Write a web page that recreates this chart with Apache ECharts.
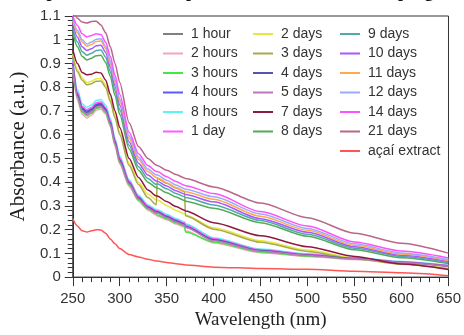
<!DOCTYPE html>
<html>
<head>
<meta charset="utf-8">
<script src="https://cdn.jsdelivr.net/npm/echarts@6/dist/echarts.min.js"></script>
<style>
  html, body { margin: 0; padding: 0; background: #fff; }
  #chart { width: 464px; height: 335px; }
</style>
</head>
<body>
<div id="chart"></div>
<script>
// wavelength grid (nm) shared by all curves
const wavelengths = [250, 255, 260, 265, 270, 275, 280, 285, 290, 295, 300, 310, 320, 330, 339, 340, 350, 360, 369, 370, 400, 450, 500, 550, 600, 650]

const yTicks = [0, 0.1, 0.2, 0.3, 0.4, 0.5, 0.6, 0.7, 0.8, 0.9, 1, 1.1]
const xTicks = [250, 300, 350, 400, 450, 500, 550, 600, 650]

// absorbance values
const oneHour = [0.895, 0.765, 0.705, 0.69, 0.7, 0.72, 0.724, 0.703, 0.648, 0.566, 0.49, 0.395, 0.331, 0.292, 0.272, 0.272, 0.252, 0.234, 0.22, 0.21, 0.155, 0.11, 0.092, 0.078, 0.062, 0.047]
const twoHours = [0.87, 0.745, 0.685, 0.67, 0.682, 0.703, 0.708, 0.687, 0.634, 0.552, 0.476, 0.382, 0.32, 0.282, 0.262, 0.257, 0.242, 0.224, 0.21, 0.195, 0.144, 0.103, 0.087, 0.074, 0.06, 0.045]
const threeHours = [0.885, 0.755, 0.695, 0.68, 0.69, 0.71, 0.714, 0.693, 0.64, 0.558, 0.482, 0.388, 0.325, 0.287, 0.267, 0.262, 0.246, 0.228, 0.215, 0.19, 0.148, 0.106, 0.089, 0.076, 0.061, 0.046]
const fourHours = [0.9, 0.775, 0.715, 0.7, 0.71, 0.728, 0.732, 0.71, 0.655, 0.572, 0.497, 0.4, 0.336, 0.297, 0.277, 0.277, 0.257, 0.239, 0.225, 0.215, 0.158, 0.113, 0.094, 0.079, 0.063, 0.048]
const eightHours = [0.92, 0.79, 0.73, 0.715, 0.725, 0.745, 0.748, 0.725, 0.67, 0.585, 0.51, 0.41, 0.345, 0.305, 0.285, 0.285, 0.265, 0.247, 0.233, 0.225, 0.166, 0.118, 0.098, 0.082, 0.066, 0.05]
const oneDay = [0.91, 0.78, 0.72, 0.705, 0.715, 0.735, 0.738, 0.715, 0.66, 0.578, 0.503, 0.405, 0.34, 0.3, 0.28, 0.28, 0.26, 0.242, 0.228, 0.22, 0.162, 0.115, 0.096, 0.08, 0.064, 0.049]
const twoDays = [0.94, 0.875, 0.84, 0.82, 0.825, 0.836, 0.837, 0.81, 0.75, 0.68, 0.61, 0.48, 0.4, 0.35, 0.325, 0.325, 0.302, 0.281, 0.266, 0.262, 0.208, 0.153, 0.114, 0.08, 0.056, 0.037]
const threeDays = [0.93, 0.865, 0.83, 0.81, 0.815, 0.825, 0.826, 0.8, 0.74, 0.67, 0.6, 0.47, 0.39, 0.335, 0.305, 0.415, 0.395, 0.375, 0.36, 0.258, 0.202, 0.147, 0.108, 0.077, 0.054, 0.035]
const fourDays = [0.9, 0.77, 0.71, 0.695, 0.705, 0.724, 0.728, 0.707, 0.652, 0.57, 0.494, 0.398, 0.334, 0.295, 0.275, 0.275, 0.255, 0.237, 0.223, 0.213, 0.157, 0.112, 0.093, 0.079, 0.063, 0.047]
const fiveDays = [0.89, 0.76, 0.7, 0.685, 0.695, 0.715, 0.719, 0.698, 0.644, 0.562, 0.486, 0.392, 0.328, 0.29, 0.27, 0.27, 0.25, 0.232, 0.218, 0.21, 0.153, 0.109, 0.091, 0.077, 0.062, 0.046]
const sevenDays = [0.96, 0.9, 0.862, 0.852, 0.855, 0.863, 0.86, 0.83, 0.77, 0.7, 0.63, 0.5, 0.42, 0.367, 0.342, 0.342, 0.318, 0.297, 0.282, 0.278, 0.229, 0.174, 0.128, 0.087, 0.055, 0.032]
const eightDays = [1.03, 0.97, 0.93, 0.915, 0.922, 0.933, 0.935, 0.905, 0.845, 0.765, 0.685, 0.54, 0.45, 0.4, 0.377, 0.375, 0.355, 0.337, 0.323, 0.32, 0.29, 0.229, 0.172, 0.115, 0.082, 0.057]
const nineDays = [1.05, 0.99, 0.95, 0.935, 0.943, 0.955, 0.957, 0.927, 0.865, 0.785, 0.705, 0.555, 0.465, 0.415, 0.39, 0.393, 0.372, 0.352, 0.338, 0.335, 0.304, 0.238, 0.18, 0.122, 0.087, 0.061]
const tenDays = [1.07, 1.01, 0.97, 0.955, 0.962, 0.975, 0.977, 0.947, 0.885, 0.805, 0.725, 0.57, 0.48, 0.43, 0.405, 0.404, 0.384, 0.364, 0.35, 0.348, 0.317, 0.246, 0.189, 0.128, 0.092, 0.066]
const elevenDays = [1.08, 1.03, 0.99, 0.973, 0.98, 0.993, 0.995, 0.963, 0.9, 0.82, 0.74, 0.585, 0.495, 0.445, 0.42, 0.419, 0.398, 0.378, 0.362, 0.36, 0.328, 0.256, 0.197, 0.134, 0.097, 0.07]
const twelveDays = [1.09, 1.04, 1.0, 0.982, 0.99, 1.002, 1.004, 0.973, 0.91, 0.83, 0.75, 0.595, 0.505, 0.455, 0.43, 0.43, 0.408, 0.388, 0.372, 0.37, 0.338, 0.266, 0.205, 0.14, 0.102, 0.074]
const fourteenDays = [1.1, 1.06, 1.025, 1.012, 1.018, 1.025, 1.022, 0.99, 0.93, 0.85, 0.77, 0.61, 0.52, 0.47, 0.445, 0.445, 0.423, 0.403, 0.387, 0.385, 0.352, 0.276, 0.215, 0.148, 0.11, 0.081]
const twentyOneDays = [1.13, 1.09, 1.075, 1.07, 1.077, 1.078, 1.062, 1.03, 0.97, 0.9, 0.82, 0.65, 0.55, 0.5, 0.472, 0.47, 0.45, 0.432, 0.418, 0.415, 0.38, 0.312, 0.25, 0.185, 0.143, 0.101]
const acaiExtract = [0.245, 0.215, 0.195, 0.19, 0.195, 0.2, 0.198, 0.185, 0.16, 0.14, 0.12, 0.095, 0.085, 0.075, 0.068, 0.068, 0.062, 0.056, 0.052, 0.051, 0.042, 0.036, 0.033, 0.025, 0.018, 0.006]

const seriesNames = ['1 hour', '2 hours', '3 hours', '4 hours', '8 hours', '1 day',
  '2 days', '3 days', '4 days', '5 days', '7 days', '8 days',
  '9 days', '10 days', '11 days', '12 days', '14 days', '21 days', 'açaí extract']
const seriesValues = [oneHour, twoHours, threeHours, fourHours, eightHours, oneDay,
  twoDays, threeDays, fourDays, fiveDays, sevenDays, eightDays,
  nineDays, tenDays, elevenDays, twelveDays, fourteenDays, twentyOneDays, acaiExtract]
const seriesColors = ['#808080', '#f2a7b8', '#44e844', '#5a5aff', '#5cf5f5', '#ff5cff',
  '#e8e83c', '#a8a850', '#5555b0', '#bb77bb', '#8e1840', '#55aa55',
  '#50aaaa', '#aa55ff', '#ffa850', '#9aaaff', '#ff50ff', '#b8668a', '#ff5555']

const axisColor = '#333'
const tickFont = { fontFamily: "'Liberation Sans', Arial, sans-serif", fontSize: 15, color: '#333' }
const legendText = { fontFamily: "'Liberation Sans', Arial, sans-serif", fontSize: 14, color: '#333', lineHeight: 14, padding: [0, 0, 0, 3] }

function legendColumn(names, left) {
  return {
    data: names,
    orient: 'vertical',
    left: left,
    top: 22,
    icon: 'rect',
    itemWidth: 20,
    itemHeight: 2,
    itemGap: 5.5,
    textStyle: legendText,
    selectedMode: false
  }
}

const chart = echarts.init(document.getElementById('chart'))

chart.setOption({
  animation: false,
  backgroundColor: '#fff',
  grid: { left: 67, right: 13, top: 16, bottom: 51, show: true, borderColor: axisColor, borderWidth: 1 },
  legend: [
    legendColumn(seriesNames.slice(0, 6), 158),
    legendColumn(seriesNames.slice(6, 12), 248),
    legendColumn(seriesNames.slice(12), 335)
  ],
  xAxis: {
    type: 'value',
    min: xTicks[0],
    max: xTicks[xTicks.length - 1],
    interval: 50,
    name: 'Wavelength (nm)',
    nameLocation: 'middle',
    nameGap: 31,
    nameTextStyle: { fontFamily: "'Liberation Serif', 'Times New Roman', serif", fontSize: 19, color: '#222' },
    axisLine: { show: true, lineStyle: { color: axisColor } },
    axisTick: { show: true, length: 9, lineStyle: { color: axisColor } },
    minorTick: { show: true, splitNumber: 5, length: 5, lineStyle: { color: axisColor } },
    axisLabel: Object.assign({ margin: 14 }, tickFont),
    splitLine: { show: false }
  },
  yAxis: {
    type: 'value',
    min: yTicks[0],
    max: yTicks[yTicks.length - 1],
    interval: 0.1,
    name: 'Absorbance (a.u.)',
    nameLocation: 'middle',
    nameGap: 38,
    nameTextStyle: { fontFamily: "'Liberation Serif', 'Times New Roman', serif", fontSize: 21, color: '#222' },
    axisLine: { show: true, lineStyle: { color: axisColor } },
    axisTick: { show: true, length: 8, lineStyle: { color: axisColor } },
    minorTick: { show: true, splitNumber: 5, length: 5, lineStyle: { color: axisColor } },
    axisLabel: Object.assign({ margin: 12, formatter: v => String(Number(v.toFixed(1))) }, tickFont),
    splitLine: { show: false }
  },
  graphic: [{
    type: 'text',
    left: 'center',
    top: -17,
    style: {
      text: 'Figure: UV-Vis spectra of the nanoparticle formation with the progression of time',
      font: "bold 18px 'Liberation Serif', serif",
      fill: '#111'
    }
  }],
  series: seriesNames.map((name, i) => ({
    name: name,
    type: 'line',
    color: seriesColors[i],
    showSymbol: false,
    smooth: 0.25,
    smoothMonotone: 'x',
    clip: true,
    lineStyle: { width: 1.5 },
    data: wavelengths.map((w, j) => [w, seriesValues[i][j]])
  }))
})
</script>
</body>
</html>
